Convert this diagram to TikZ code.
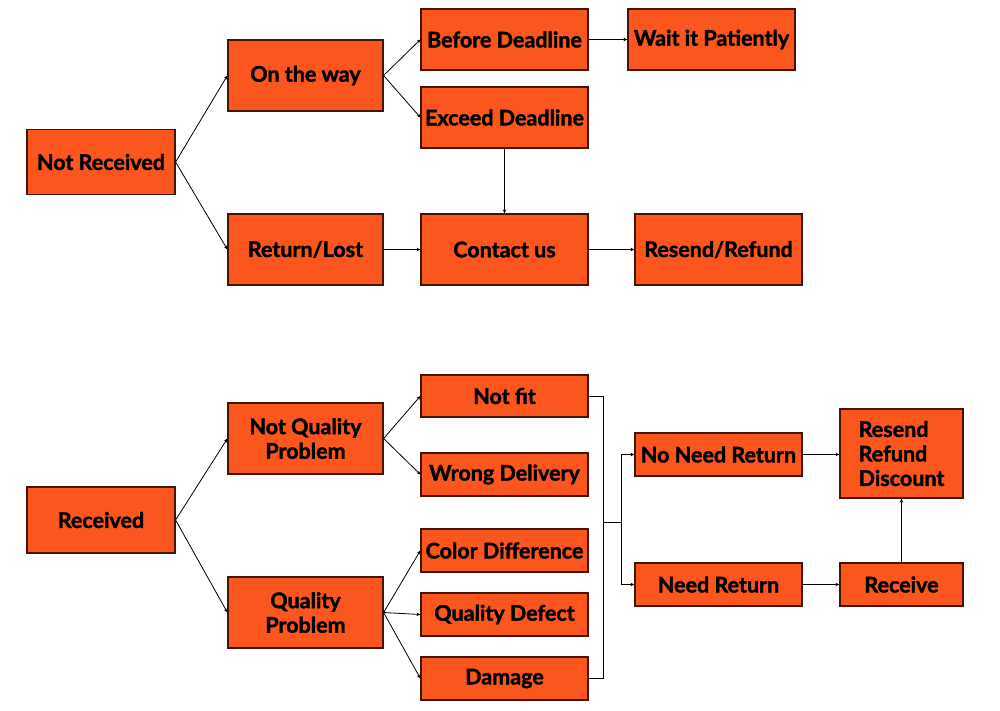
\documentclass[tikz,border=0pt]{standalone}
\usepackage{fontspec}
\setmainfont{Lato}[BoldFeatures={FakeBold=1.6}]
\usetikzlibrary{arrows.meta}
\definecolor{boxfill}{RGB}{250,86,30}
\definecolor{boxline}{RGB}{70,20,5}
\tikzset{
  box/.style={draw=boxline, line width=1.2pt, fill=boxfill, inner sep=0pt, align=center,
    font=\fontsize{21.5}{24.5}\selectfont\bfseries, text=black},
  arr/.style={-{Stealth[length=4pt,width=3.5pt]}, line width=0.8pt},
  ln/.style={line width=0.8pt}
}
\begin{document}
\begin{tikzpicture}[x=1pt,y=-1pt]
\useasboundingbox (0,0) rectangle (1000,710);
% top
\node[box, minimum width=148, minimum height=65] (nrec) at (101,162) {Not Received};
\node[box, minimum width=155, minimum height=71] (otw) at (305.5,75.5) {On the way};
\node[box, minimum width=155, minimum height=71] (rl) at (305.5,249.5) {Return/Lost};
\node[box, minimum width=167, minimum height=61] (bd) at (504.5,39.5) {Before Deadline};
\node[box, minimum width=167, minimum height=61] (ed) at (504.5,117.5) {Exceed Deadline};
\node[box, minimum width=167, minimum height=61] (wp) at (711.5,39.5) {Wait it Patiently};
\node[box, minimum width=167, minimum height=71] (cu) at (504.5,249.5) {Contact us};
\node[box, minimum width=167, minimum height=71] (rr) at (718.5,249.5) {Resend/Refund};
\draw[arr] (nrec.east) -- (otw.west);
\draw[arr] (nrec.east) -- (rl.west);
\draw[arr] (otw.east) -- (bd.west);
\draw[arr] (otw.east) -- (ed.west);
\draw[arr] (bd.east) -- (wp.west);
\draw[arr] (ed.south) -- (cu.north);
\draw[arr] (rl.east) -- (cu.west);
\draw[arr] (cu.east) -- (rr.west);
% bottom
\node[box, minimum width=148, minimum height=66] (rec) at (101,520) {Received};
\node[box, minimum width=155, minimum height=71] (nqp) at (305.5,438.5) {Not Quality\\Problem};
\node[box, minimum width=155, minimum height=71] (qp) at (305.5,612.5) {Quality\\Problem};
\node[box, minimum width=167, minimum height=42] (nf) at (504.5,396) {Not fit};
\node[box, minimum width=167, minimum height=43] (wd) at (504.5,474.5) {Wrong Delivery};
\node[box, minimum width=167, minimum height=43] (cd) at (504.5,550.5) {Color Difference};
\node[box, minimum width=167, minimum height=43] (qd) at (504.5,614.5) {Quality Defect};
\node[box, minimum width=167, minimum height=43] (dm) at (504.5,678.5) {Damage};
\node[box, minimum width=167, minimum height=43] (nnr) at (718.5,454.5) {No Need Return};
\node[box, minimum width=167, minimum height=43] (ndr) at (718.5,584.5) {Need Return};
\node[box, minimum width=123, minimum height=89, align=left] (rrd) at (901.5,453.5) {Resend\\Refund\\Discount};
\node[box, minimum width=123, minimum height=43] (rcv) at (901.5,584.5) {Receive};
\draw[arr] (rec.east) -- (nqp.west);
\draw[arr] (rec.east) -- (qp.west);
\draw[arr] (nqp.east) -- (nf.west);
\draw[arr] (nqp.east) -- (wd.west);
\draw[arr] (qp.east) -- (cd.west);
\draw[arr] (qp.east) -- (qd.west);
\draw[arr] (qp.east) -- (dm.west);
\coordinate (b1) at (603,396);
\coordinate (b2) at (603,678.5);
\coordinate (bm) at (603,522);
\coordinate (bj) at (621,522);
\draw[ln] (nf.east) -- (b1) -- (b2) -- (dm.east);
\draw[ln] (bm) -- (bj);
\draw[arr] (bj) |- (nnr.west);
\draw[arr] (bj) |- (ndr.west);
\draw[arr] (nnr.east) -- (rrd.west |- nnr.east);
\draw[arr] (ndr.east) -- (rcv.west);
\draw[arr] (rcv.north) -- (rrd.south);
\end{tikzpicture}
\end{document}
